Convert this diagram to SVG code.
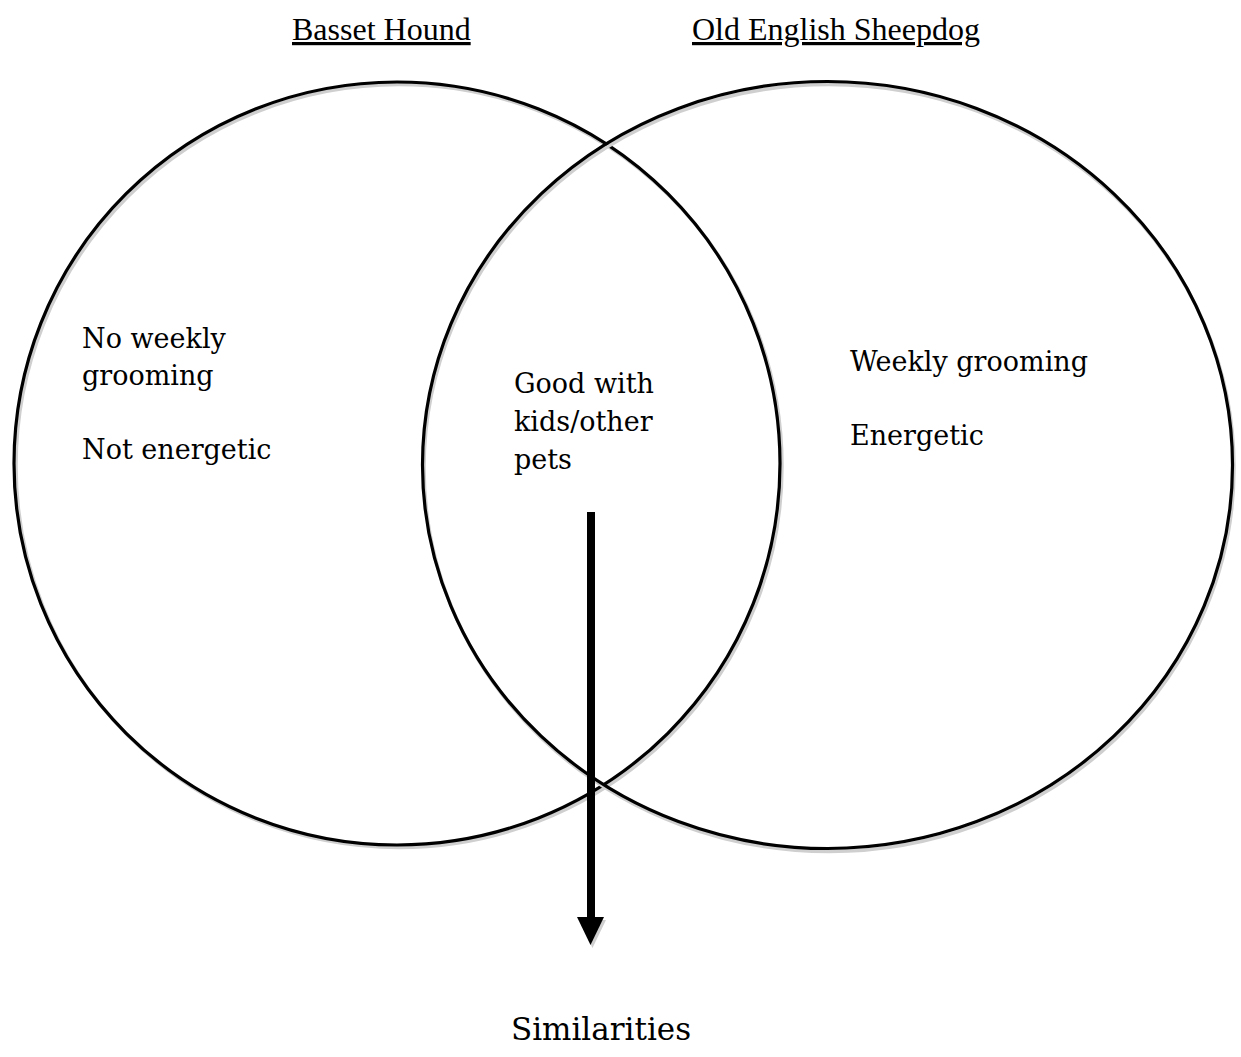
<svg xmlns="http://www.w3.org/2000/svg" width="1241" height="1057" viewBox="0 0 1241 1057">
<style>
.ring{fill:none;stroke:#000;stroke-width:3.2}
.shadow{fill:none;stroke:#cfcfcf;stroke-width:3.5}
.title{font-family:"Liberation Serif","Times New Roman",serif;font-size:32px;fill:#000;text-decoration:underline}
.body{font-family:"DejaVu Serif","Liberation Serif",serif;font-size:27px;fill:#000}
</style>
<rect width="1241" height="1057" fill="#fff"/>
<g id="left-circle">
<ellipse class="shadow" cx="399" cy="466" rx="383" ry="381.5"/>
<ellipse class="ring" cx="397" cy="463.5" rx="383" ry="381.5"/>
<text class="body" x="82" y="348">No weekly</text>
<text class="body" x="82" y="385">grooming</text>
<text class="body" x="82" y="459">Not energetic</text>
</g>
<g id="right-circle">
<ellipse class="shadow" cx="829" cy="468" rx="405" ry="383.5"/>
<ellipse class="ring" cx="827.5" cy="465" rx="405" ry="383.5"/>
<text class="body" x="850" y="371">Weekly grooming</text>
<text class="body" x="850" y="445">Energetic</text>
</g>
<g id="overlap">
<text class="body" x="514" y="393">Good with</text>
<text class="body" x="514" y="431">kids/other</text>
<text class="body" x="514" y="469">pets</text>
</g>
<g id="title-left"><text class="title" x="292" y="40">Basset Hound</text></g>
<g id="title-right"><text class="title" x="692" y="40">Old English Sheepdog</text></g>
<g id="connectors">
<polygon points="579,920 606,920 592.5,948" fill="#cfcfcf"/>
<rect x="587" y="512" width="8" height="408" fill="#000"/>
<polygon points="577,917 604,917 590.5,945" fill="#000"/>
</g>
<g id="similarities"><text class="body" x="601" y="1040" text-anchor="middle" style="font-size:31px">Similarities</text></g>
</svg>
